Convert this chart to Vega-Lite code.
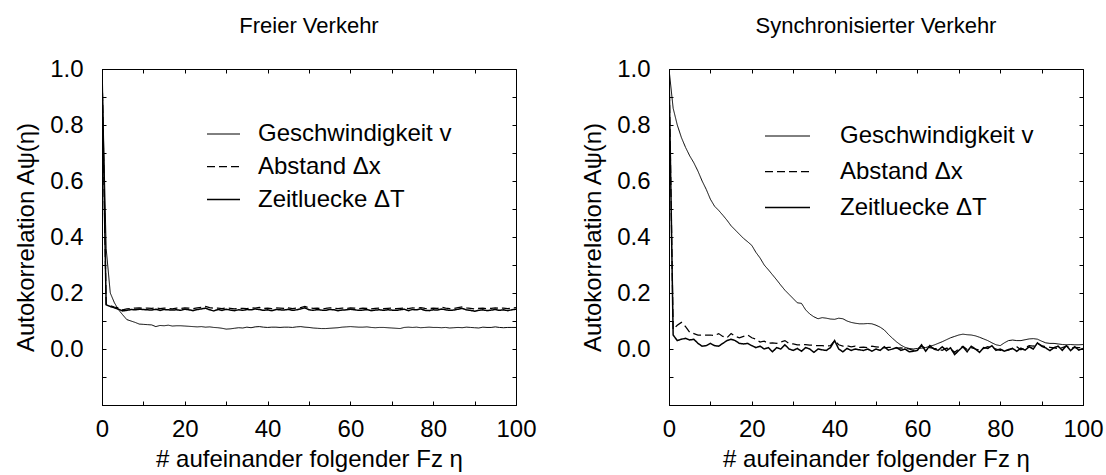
{
  "$schema": "https://vega.github.io/schema/vega-lite/v6.json",
  "padding": {"left": 14, "top": 14, "right": 5, "bottom": 5},
  "background": "white",
  "config": {
    "font": "Liberation Sans",
    "view": {"stroke": "#000", "strokeWidth": 1},
    "axis": {
      "grid": false,
      "domainColor": "#000",
      "tickColor": "#000",
      "labelColor": "#000",
      "titleColor": "#000",
      "labelFontSize": 24,
      "titleFontSize": 24,
      "titleFontWeight": "normal",
      "tickSize": -4,
      "labelFlush": false,
      "labelOverlap": false
    },
    "axisX": {"labelPadding": 16, "titlePadding": 6},
    "axisY": {"labelPadding": 23, "titlePadding": 11},
    "title": {"fontSize": 22, "fontWeight": "normal", "color": "#000", "offset": 19, "anchor": "middle"},
    "legend": {
      "labelFontSize": 24,
      "labelColor": "#000",
      "labelLimit": 0,
      "symbolType": "stroke",
      "symbolStrokeColor": "#000",
      "padding": 0
    }
  },
  "datasets": {
    "frei": [
      {"eta":0,"v":1,"dx":1,"dT":1},
      {"eta":1,"v":0.36,"dx":0.16,"dT":0.158},
      {"eta":2,"v":0.2,"dx":0.155,"dT":0.152},
      {"eta":3,"v":0.165,"dx":0.15,"dT":0.147},
      {"eta":4,"v":0.14,"dx":0.147,"dT":0.142},
      {"eta":5,"v":0.122,"dx":0.14,"dT":0.136},
      {"eta":6,"v":0.105,"dx":0.143,"dT":0.138},
      {"eta":7,"v":0.1,"dx":0.145,"dT":0.141},
      {"eta":8,"v":0.095,"dx":0.146,"dT":0.14},
      {"eta":9,"v":0.089,"dx":0.147,"dT":0.142},
      {"eta":10,"v":0.088,"dx":0.145,"dT":0.141},
      {"eta":11,"v":0.087,"dx":0.146,"dT":0.14},
      {"eta":12,"v":0.086,"dx":0.145,"dT":0.139},
      {"eta":13,"v":0.08,"dx":0.147,"dT":0.142},
      {"eta":14,"v":0.084,"dx":0.144,"dT":0.138},
      {"eta":15,"v":0.083,"dx":0.146,"dT":0.141},
      {"eta":16,"v":0.085,"dx":0.145,"dT":0.14},
      {"eta":17,"v":0.082,"dx":0.143,"dT":0.139},
      {"eta":18,"v":0.083,"dx":0.146,"dT":0.14},
      {"eta":19,"v":0.083,"dx":0.145,"dT":0.138},
      {"eta":20,"v":0.082,"dx":0.147,"dT":0.142},
      {"eta":21,"v":0.081,"dx":0.146,"dT":0.14},
      {"eta":22,"v":0.08,"dx":0.144,"dT":0.137},
      {"eta":23,"v":0.079,"dx":0.147,"dT":0.141},
      {"eta":24,"v":0.08,"dx":0.149,"dT":0.143},
      {"eta":25,"v":0.078,"dx":0.152,"dT":0.146},
      {"eta":26,"v":0.079,"dx":0.148,"dT":0.14},
      {"eta":27,"v":0.077,"dx":0.145,"dT":0.136},
      {"eta":28,"v":0.076,"dx":0.146,"dT":0.141},
      {"eta":29,"v":0.074,"dx":0.144,"dT":0.138},
      {"eta":30,"v":0.071,"dx":0.147,"dT":0.142},
      {"eta":31,"v":0.072,"dx":0.145,"dT":0.139},
      {"eta":32,"v":0.074,"dx":0.143,"dT":0.137},
      {"eta":33,"v":0.076,"dx":0.146,"dT":0.14},
      {"eta":34,"v":0.075,"dx":0.145,"dT":0.138},
      {"eta":35,"v":0.078,"dx":0.144,"dT":0.141},
      {"eta":36,"v":0.076,"dx":0.147,"dT":0.14},
      {"eta":37,"v":0.079,"dx":0.146,"dT":0.143},
      {"eta":38,"v":0.08,"dx":0.149,"dT":0.141},
      {"eta":39,"v":0.078,"dx":0.145,"dT":0.138},
      {"eta":40,"v":0.077,"dx":0.146,"dT":0.14},
      {"eta":41,"v":0.078,"dx":0.144,"dT":0.137},
      {"eta":42,"v":0.078,"dx":0.147,"dT":0.141},
      {"eta":43,"v":0.077,"dx":0.146,"dT":0.14},
      {"eta":44,"v":0.078,"dx":0.145,"dT":0.139},
      {"eta":45,"v":0.078,"dx":0.147,"dT":0.142},
      {"eta":46,"v":0.077,"dx":0.144,"dT":0.138},
      {"eta":47,"v":0.079,"dx":0.146,"dT":0.14},
      {"eta":48,"v":0.08,"dx":0.148,"dT":0.143},
      {"eta":49,"v":0.078,"dx":0.152,"dT":0.147},
      {"eta":50,"v":0.077,"dx":0.147,"dT":0.14},
      {"eta":51,"v":0.075,"dx":0.145,"dT":0.138},
      {"eta":52,"v":0.074,"dx":0.146,"dT":0.141},
      {"eta":53,"v":0.073,"dx":0.144,"dT":0.139},
      {"eta":54,"v":0.073,"dx":0.145,"dT":0.138},
      {"eta":55,"v":0.074,"dx":0.147,"dT":0.141},
      {"eta":56,"v":0.075,"dx":0.146,"dT":0.14},
      {"eta":57,"v":0.076,"dx":0.144,"dT":0.137},
      {"eta":58,"v":0.078,"dx":0.146,"dT":0.139},
      {"eta":59,"v":0.079,"dx":0.145,"dT":0.14},
      {"eta":60,"v":0.08,"dx":0.147,"dT":0.142},
      {"eta":61,"v":0.079,"dx":0.146,"dT":0.14},
      {"eta":62,"v":0.078,"dx":0.144,"dT":0.138},
      {"eta":63,"v":0.078,"dx":0.146,"dT":0.139},
      {"eta":64,"v":0.079,"dx":0.145,"dT":0.141},
      {"eta":65,"v":0.077,"dx":0.143,"dT":0.137},
      {"eta":66,"v":0.076,"dx":0.145,"dT":0.139},
      {"eta":67,"v":0.077,"dx":0.146,"dT":0.14},
      {"eta":68,"v":0.077,"dx":0.144,"dT":0.138},
      {"eta":69,"v":0.076,"dx":0.145,"dT":0.14},
      {"eta":70,"v":0.075,"dx":0.146,"dT":0.139},
      {"eta":71,"v":0.074,"dx":0.144,"dT":0.138},
      {"eta":72,"v":0.073,"dx":0.145,"dT":0.14},
      {"eta":73,"v":0.077,"dx":0.146,"dT":0.142},
      {"eta":74,"v":0.078,"dx":0.144,"dT":0.137},
      {"eta":75,"v":0.077,"dx":0.147,"dT":0.141},
      {"eta":76,"v":0.078,"dx":0.146,"dT":0.14},
      {"eta":77,"v":0.076,"dx":0.148,"dT":0.143},
      {"eta":78,"v":0.077,"dx":0.145,"dT":0.138},
      {"eta":79,"v":0.078,"dx":0.144,"dT":0.137},
      {"eta":80,"v":0.077,"dx":0.146,"dT":0.14},
      {"eta":81,"v":0.077,"dx":0.145,"dT":0.139},
      {"eta":82,"v":0.076,"dx":0.149,"dT":0.143},
      {"eta":83,"v":0.077,"dx":0.146,"dT":0.14},
      {"eta":84,"v":0.075,"dx":0.144,"dT":0.138},
      {"eta":85,"v":0.076,"dx":0.145,"dT":0.139},
      {"eta":86,"v":0.077,"dx":0.148,"dT":0.142},
      {"eta":87,"v":0.076,"dx":0.15,"dT":0.145},
      {"eta":88,"v":0.078,"dx":0.147,"dT":0.14},
      {"eta":89,"v":0.077,"dx":0.145,"dT":0.138},
      {"eta":90,"v":0.076,"dx":0.143,"dT":0.135},
      {"eta":91,"v":0.075,"dx":0.145,"dT":0.138},
      {"eta":92,"v":0.078,"dx":0.146,"dT":0.14},
      {"eta":93,"v":0.077,"dx":0.144,"dT":0.137},
      {"eta":94,"v":0.077,"dx":0.145,"dT":0.139},
      {"eta":95,"v":0.079,"dx":0.147,"dT":0.141},
      {"eta":96,"v":0.077,"dx":0.145,"dT":0.138},
      {"eta":97,"v":0.076,"dx":0.146,"dT":0.14},
      {"eta":98,"v":0.077,"dx":0.144,"dT":0.137},
      {"eta":99,"v":0.077,"dx":0.146,"dT":0.14},
      {"eta":100,"v":0.077,"dx":0.148,"dT":0.142}
    ],
    "sync": [
      {"eta":0,"v":1,"dx":1,"dT":1},
      {"eta":1,"v":0.86,"dx":0.07,"dT":0.05},
      {"eta":2,"v":0.8,"dx":0.085,"dT":0.03},
      {"eta":3,"v":0.755,"dx":0.095,"dT":0.035},
      {"eta":4,"v":0.72,"dx":0.08,"dT":0.038},
      {"eta":5,"v":0.69,"dx":0.06,"dT":0.032},
      {"eta":6,"v":0.665,"dx":0.055,"dT":0.035},
      {"eta":7,"v":0.635,"dx":0.05,"dT":0.02},
      {"eta":8,"v":0.6,"dx":0.05,"dT":0.01},
      {"eta":9,"v":0.57,"dx":0.05,"dT":0.012},
      {"eta":10,"v":0.535,"dx":0.05,"dT":0.02},
      {"eta":11,"v":0.51,"dx":0.048,"dT":0.012},
      {"eta":12,"v":0.495,"dx":0.055,"dT":0.01},
      {"eta":13,"v":0.478,"dx":0.045,"dT":0.02},
      {"eta":14,"v":0.46,"dx":0.04,"dT":0.03},
      {"eta":15,"v":0.44,"dx":0.055,"dT":0.035},
      {"eta":16,"v":0.425,"dx":0.045,"dT":0.03},
      {"eta":17,"v":0.41,"dx":0.04,"dT":0.02},
      {"eta":18,"v":0.395,"dx":0.045,"dT":0.018},
      {"eta":19,"v":0.383,"dx":0.05,"dT":0.02},
      {"eta":20,"v":0.37,"dx":0.04,"dT":0.012},
      {"eta":21,"v":0.345,"dx":0.035,"dT":0.005},
      {"eta":22,"v":0.325,"dx":0.025,"dT":0.01},
      {"eta":23,"v":0.3,"dx":0.028,"dT":0.0},
      {"eta":24,"v":0.283,"dx":0.02,"dT":0.005},
      {"eta":25,"v":0.265,"dx":0.022,"dT":-0.01},
      {"eta":26,"v":0.247,"dx":0.02,"dT":0.005},
      {"eta":27,"v":0.228,"dx":0.025,"dT":0.0},
      {"eta":28,"v":0.21,"dx":0.03,"dT":0.015},
      {"eta":29,"v":0.195,"dx":0.02,"dT":0.0},
      {"eta":30,"v":0.18,"dx":0.018,"dT":-0.005},
      {"eta":31,"v":0.165,"dx":0.015,"dT":0.002},
      {"eta":32,"v":0.163,"dx":0.015,"dT":-0.008},
      {"eta":33,"v":0.14,"dx":0.016,"dT":0.005},
      {"eta":34,"v":0.125,"dx":0.014,"dT":0.0},
      {"eta":35,"v":0.115,"dx":0.013,"dT":-0.012},
      {"eta":36,"v":0.108,"dx":0.012,"dT":0.0},
      {"eta":37,"v":0.112,"dx":0.012,"dT":-0.003},
      {"eta":38,"v":0.11,"dx":0.011,"dT":-0.005},
      {"eta":39,"v":0.107,"dx":0.012,"dT":0.005},
      {"eta":40,"v":0.106,"dx":0.03,"dT":0.03},
      {"eta":41,"v":0.11,"dx":0.015,"dT":0.0},
      {"eta":42,"v":0.108,"dx":0.01,"dT":-0.01},
      {"eta":43,"v":0.1,"dx":0.012,"dT":0.002},
      {"eta":44,"v":0.095,"dx":0.008,"dT":-0.005},
      {"eta":45,"v":0.092,"dx":0.01,"dT":0.0},
      {"eta":46,"v":0.09,"dx":0.006,"dT":-0.003},
      {"eta":47,"v":0.09,"dx":0.007,"dT":-0.005},
      {"eta":48,"v":0.091,"dx":0.005,"dT":0.0},
      {"eta":49,"v":0.09,"dx":0.01,"dT":-0.008},
      {"eta":50,"v":0.085,"dx":0.008,"dT":0.0},
      {"eta":51,"v":0.078,"dx":0.006,"dT":-0.005},
      {"eta":52,"v":0.068,"dx":0.004,"dT":0.008},
      {"eta":53,"v":0.052,"dx":0.006,"dT":-0.004},
      {"eta":54,"v":0.038,"dx":0.005,"dT":0.0},
      {"eta":55,"v":0.025,"dx":0.003,"dT":0.005},
      {"eta":56,"v":0.014,"dx":0.004,"dT":-0.005},
      {"eta":57,"v":0.006,"dx":0.002,"dT":0.0},
      {"eta":58,"v":0.002,"dx":0.0,"dT":-0.01},
      {"eta":59,"v":0.0,"dx":-0.005,"dT":-0.008},
      {"eta":60,"v":0.002,"dx":0.0,"dT":-0.005},
      {"eta":61,"v":0.003,"dx":0.01,"dT":0.015},
      {"eta":62,"v":0.005,"dx":0.003,"dT":-0.008},
      {"eta":63,"v":0.01,"dx":0.005,"dT":0.012},
      {"eta":64,"v":0.014,"dx":0.002,"dT":0.0},
      {"eta":65,"v":0.02,"dx":0.0,"dT":-0.005},
      {"eta":66,"v":0.026,"dx":-0.005,"dT":0.008},
      {"eta":67,"v":0.033,"dx":0.003,"dT":-0.006},
      {"eta":68,"v":0.04,"dx":0.0,"dT":0.004},
      {"eta":69,"v":0.045,"dx":-0.012,"dT":-0.02},
      {"eta":70,"v":0.05,"dx":0.0,"dT":-0.005},
      {"eta":71,"v":0.053,"dx":0.01,"dT":0.008},
      {"eta":72,"v":0.051,"dx":-0.002,"dT":-0.01},
      {"eta":73,"v":0.05,"dx":0.005,"dT":0.01},
      {"eta":74,"v":0.047,"dx":0.0,"dT":0.0},
      {"eta":75,"v":0.042,"dx":-0.004,"dT":-0.012},
      {"eta":76,"v":0.036,"dx":0.002,"dT":0.005},
      {"eta":77,"v":0.03,"dx":0.008,"dT":0.002},
      {"eta":78,"v":0.022,"dx":0.004,"dT":0.012},
      {"eta":79,"v":0.015,"dx":0.0,"dT":-0.005},
      {"eta":80,"v":0.012,"dx":-0.005,"dT":0.0},
      {"eta":81,"v":0.022,"dx":-0.006,"dT":-0.008},
      {"eta":82,"v":0.03,"dx":-0.004,"dT":-0.002},
      {"eta":83,"v":0.032,"dx":0.003,"dT":0.002},
      {"eta":84,"v":0.03,"dx":0.008,"dT":-0.008},
      {"eta":85,"v":0.03,"dx":-0.003,"dT":0.003},
      {"eta":86,"v":0.033,"dx":0.005,"dT":-0.004},
      {"eta":87,"v":0.036,"dx":0.012,"dT":0.008},
      {"eta":88,"v":0.037,"dx":0.01,"dT":0.0},
      {"eta":89,"v":0.035,"dx":0.02,"dT":0.022},
      {"eta":90,"v":0.028,"dx":0.012,"dT":0.01},
      {"eta":91,"v":0.022,"dx":0.008,"dT":0.004},
      {"eta":92,"v":0.02,"dx":0.006,"dT":-0.006},
      {"eta":93,"v":0.02,"dx":0.004,"dT":0.005},
      {"eta":94,"v":0.018,"dx":0.002,"dT":0.01},
      {"eta":95,"v":0.016,"dx":0.005,"dT":-0.005},
      {"eta":96,"v":0.015,"dx":0.01,"dT":0.012},
      {"eta":97,"v":0.016,"dx":0.004,"dT":-0.006},
      {"eta":98,"v":0.015,"dx":0.006,"dT":0.008},
      {"eta":99,"v":0.015,"dx":0.005,"dT":-0.004},
      {"eta":100,"v":0.016,"dx":0.004,"dT":0.002}
    ]
  },
  "hconcat": [
    {
      "width": 414,
      "height": 336,
      "title": "Freier Verkehr",
      "data": {"name": "frei"},
      "transform": [{"fold": ["v", "dx", "dT"], "as": ["serie", "A"]}],
      "resolve": {"axis": {"x": "independent", "y": "independent"}},
      "layer": [
        {
          "mark": {"type": "line", "color": "#000", "clip": true},
          "encoding": {
            "x": {"field": "eta", "type": "quantitative", "scale": {"domain": [0, 100], "nice": false},
              "axis": {"values": [0,10,20,30,40,50,60,70,80,90,100], "labelExpr": "datum.value % 20 === 0 ? datum.label : ''", "title": "# aufeinander folgender Fz η"}},
            "y": {"field": "A", "type": "quantitative", "scale": {"domain": [-0.2, 1.0], "nice": false, "zero": false},
              "axis": {"values": [-0.2,-0.1,0,0.1,0.2,0.3,0.4,0.5,0.6,0.7,0.8,0.9,1.0], "labelExpr": "datum.value > -0.05 && round(datum.value*10) % 2 === 0 ? format(datum.value, '.1f') : ''", "title": "Autokorrelation Aψ(η)"}},
            "strokeDash": {"field": "serie", "type": "nominal", "scale": {"domain": ["v", "dx", "dT"], "range": [[1, 0], [8, 4], [1, 0]]},
              "legend": {"orient": "none", "legendX": 104, "legendY": 48, "title": null, "symbolSize": 1089, "rowPadding": 3, "labelOffset": 17,
                "labelExpr": "datum.value === 'v' ? 'Geschwindigkeit v' : datum.value === 'dx' ? 'Abstand Δx' : 'Zeitluecke ΔT'"}},
            "strokeWidth": {"field": "serie", "type": "nominal", "scale": {"domain": ["v", "dx", "dT"], "range": [1, 1.5, 2.2]},
              "legend": {"orient": "none", "legendX": 104, "legendY": 48, "title": null, "symbolSize": 1089, "rowPadding": 3, "labelOffset": 17,
                "labelExpr": "datum.value === 'v' ? 'Geschwindigkeit v' : datum.value === 'dx' ? 'Abstand Δx' : 'Zeitluecke ΔT'"}}
          }
        },
        {
          "mark": {"type": "line", "opacity": 0},
          "encoding": {
            "x": {"field": "eta", "type": "quantitative", "axis": {"orient": "top", "values": [0,10,20,30,40,50,60,70,80,90,100], "labels": false, "domain": false, "title": null}},
            "y": {"field": "A", "type": "quantitative", "axis": {"orient": "right", "values": [-0.2,-0.1,0,0.1,0.2,0.3,0.4,0.5,0.6,0.7,0.8,0.9,1.0], "labels": false, "domain": false, "title": null}},
            "detail": {"field": "serie", "type": "nominal"}
          }
        }
      ]
    },
    {
      "width": 414,
      "height": 336,
      "title": "Synchronisierter Verkehr",
      "data": {"name": "sync"},
      "transform": [{"fold": ["v", "dx", "dT"], "as": ["serie", "A"]}],
      "resolve": {"axis": {"x": "independent", "y": "independent"}},
      "layer": [
        {
          "mark": {"type": "line", "color": "#000", "clip": true},
          "encoding": {
            "x": {"field": "eta", "type": "quantitative", "scale": {"domain": [0, 100], "nice": false},
              "axis": {"values": [0,10,20,30,40,50,60,70,80,90,100], "labelExpr": "datum.value % 20 === 0 ? datum.label : ''", "title": "# aufeinander folgender Fz η"}},
            "y": {"field": "A", "type": "quantitative", "scale": {"domain": [-0.2, 1.0], "nice": false, "zero": false},
              "axis": {"values": [-0.2,-0.1,0,0.1,0.2,0.3,0.4,0.5,0.6,0.7,0.8,0.9,1.0], "labelExpr": "datum.value > -0.05 && round(datum.value*10) % 2 === 0 ? format(datum.value, '.1f') : ''", "title": "Autokorrelation Aψ(n)"}},
            "strokeDash": {"field": "serie", "type": "nominal", "scale": {"domain": ["v", "dx", "dT"], "range": [[1, 0], [8, 4], [1, 0]]},
              "legend": {"orient": "none", "legendX": 95, "legendY": 44, "title": null, "symbolSize": 2025, "rowPadding": 0, "labelOffset": 29,
                "labelExpr": "datum.value === 'v' ? 'Geschwindigkeit v' : datum.value === 'dx' ? 'Abstand Δx' : 'Zeitluecke ΔT'"}},
            "strokeWidth": {"field": "serie", "type": "nominal", "scale": {"domain": ["v", "dx", "dT"], "range": [1, 1.5, 2.2]},
              "legend": {"orient": "none", "legendX": 95, "legendY": 44, "title": null, "symbolSize": 2025, "rowPadding": 0, "labelOffset": 29,
                "labelExpr": "datum.value === 'v' ? 'Geschwindigkeit v' : datum.value === 'dx' ? 'Abstand Δx' : 'Zeitluecke ΔT'"}}
          }
        },
        {
          "mark": {"type": "line", "opacity": 0},
          "encoding": {
            "x": {"field": "eta", "type": "quantitative", "axis": {"orient": "top", "values": [0,10,20,30,40,50,60,70,80,90,100], "labels": false, "domain": false, "title": null}},
            "y": {"field": "A", "type": "quantitative", "axis": {"orient": "right", "values": [-0.2,-0.1,0,0.1,0.2,0.3,0.4,0.5,0.6,0.7,0.8,0.9,1.0], "labels": false, "domain": false, "title": null}},
            "detail": {"field": "serie", "type": "nominal"}
          }
        }
      ]
    }
  ],
  "spacing": 44,
  "resolve": {
    "scale": {"strokeDash": "independent", "strokeWidth": "independent"},
    "legend": {"strokeDash": "independent", "strokeWidth": "independent"}
  }
}
